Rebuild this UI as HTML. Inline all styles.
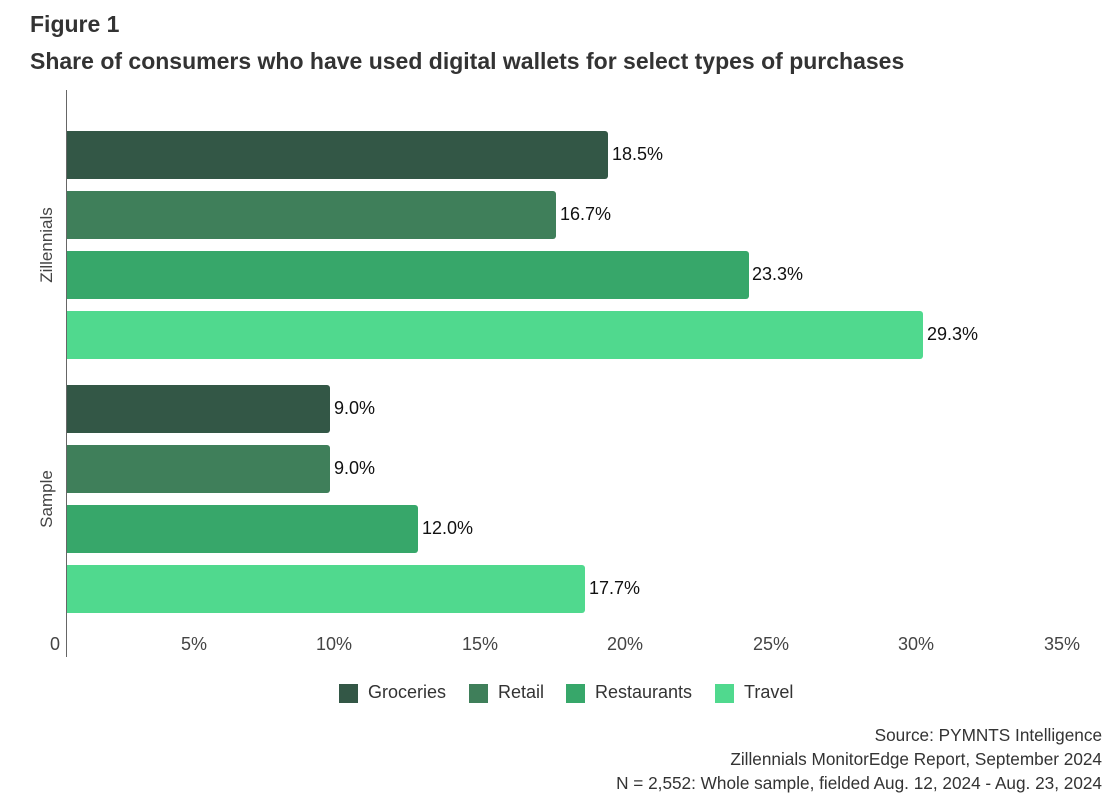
<!DOCTYPE html>
<html><head><meta charset="utf-8"><style>
body{margin:0;width:1117px;height:805px;background:#fff;font-family:"Liberation Sans",sans-serif;position:relative;overflow:hidden;color:#222}
.a{position:absolute;white-space:nowrap}
.bar{position:absolute;left:67px;height:48px;border-radius:0 3px 3px 0}
.v{position:absolute;font-size:18px;color:#111}
.t{position:absolute;top:634px;font-size:18px;color:#444;transform:translateX(-50%)}
.c1{background:#335746}.c2{background:#3f7f5a}.c3{background:#37a76a}.c4{background:#50d98e}
.lg{position:absolute;top:684px;width:19px;height:19px}
.ll{position:absolute;top:682px;font-size:18px;color:#333}
</style></head><body>
<div class="a" style="left:30px;top:11px;font-size:23px;font-weight:bold;color:#333">Figure 1</div>
<div class="a" style="left:30px;top:48px;font-size:23px;font-weight:bold;color:#333">Share of consumers who have used digital wallets for select types of purchases</div>
<div class="a" style="left:66px;top:90px;width:1px;height:567px;background:#666"></div>
<div class="bar c1" style="top:131px;width:541px"></div><div class="v" style="left:612px;top:144px">18.5%</div>
<div class="bar c2" style="top:191px;width:489px"></div><div class="v" style="left:560px;top:204px">16.7%</div>
<div class="bar c3" style="top:251px;width:682px"></div><div class="v" style="left:752px;top:264px">23.3%</div>
<div class="bar c4" style="top:311px;width:856px"></div><div class="v" style="left:927px;top:324px">29.3%</div>
<div class="bar c1" style="top:385px;width:263px"></div><div class="v" style="left:334px;top:398px">9.0%</div>
<div class="bar c2" style="top:445px;width:263px"></div><div class="v" style="left:334px;top:458px">9.0%</div>
<div class="bar c3" style="top:505px;width:351px"></div><div class="v" style="left:422px;top:518px">12.0%</div>
<div class="bar c4" style="top:565px;width:518px"></div><div class="v" style="left:589px;top:578px">17.7%</div>
<div class="a" style="left:47px;top:245px;font-size:17px;color:#444;transform:translate(-50%,-50%) rotate(-90deg)">Zillennials</div>
<div class="a" style="left:47px;top:499px;font-size:17px;color:#444;transform:translate(-50%,-50%) rotate(-90deg)">Sample</div>
<div class="t" style="left:55px">0</div>
<div class="t" style="left:194px">5%</div>
<div class="t" style="left:334px">10%</div>
<div class="t" style="left:480px">15%</div>
<div class="t" style="left:625px">20%</div>
<div class="t" style="left:771px">25%</div>
<div class="t" style="left:916px">30%</div>
<div class="t" style="left:1062px">35%</div>
<div class="lg c1" style="left:339px"></div><div class="ll" style="left:368px">Groceries</div>
<div class="lg c2" style="left:469px"></div><div class="ll" style="left:498px">Retail</div>
<div class="lg c3" style="left:566px"></div><div class="ll" style="left:595px">Restaurants</div>
<div class="lg c4" style="left:715px"></div><div class="ll" style="left:744px">Travel</div>
<div class="a" style="right:15px;top:723px;font-size:17.2px;color:#333;text-align:right;line-height:24px">Source: PYMNTS Intelligence<br>Zillennials MonitorEdge Report, September 2024<br>N = 2,552: Whole sample, fielded Aug. 12, 2024 - Aug. 23, 2024</div>
</body></html>
